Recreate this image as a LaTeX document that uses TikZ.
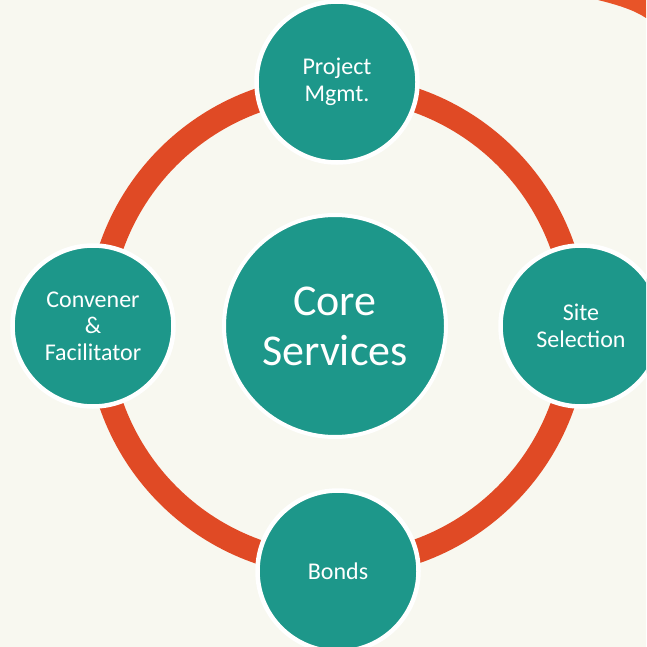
\documentclass[tikz,border=0pt]{standalone}
\usepackage{fontspec}
\setmainfont{Carlito}
\definecolor{bgcol}{HTML}{F8F8F0}
\definecolor{teal}{HTML}{1D978A}
\definecolor{ringred}{HTML}{E04A25}
\definecolor{cornerorange}{HTML}{E85428}
\begin{document}
\begin{tikzpicture}[x=1pt,y=-1pt,
  satellite/.style={circle, fill=teal, draw=white, line width=4.5pt, minimum size=161pt, inner sep=0pt,
    text=white, align=center, font=\fontsize{24}{26.5}\selectfont},
  hub/.style={circle, fill=teal, draw=white, line width=4pt, minimum size=222pt, inner sep=0pt,
    text=white, align=center, font=\fontsize{44}{50}\selectfont},
  ringstyle/.style={draw=ringred, line width=24pt}]
\useasboundingbox (0,0) rectangle (646,647);
\clip (0,0) rectangle (646,647);
\fill[bgcol] (0,0) rectangle (646,647);
\fill[cornerorange] (598,0) .. controls (618,5) and (634,10) .. (646,18) -- (646,0) -- cycle;
\coordinate (ringc) at (337,326);
\draw[ringstyle] (ringc) circle[radius=239pt];
\node[hub] (core) at (335,326) {Core\\Services};
\node[satellite] (pm) at (337,82) {Project\\Mgmt.};
\node[satellite] (site) at (581,326) {Site\\Selection};
\node[satellite] (bonds) at (338,571) {Bonds};
\node[satellite] (conv) at (93,326) {Convener\\\&\\Facilitator};
\end{tikzpicture}
\end{document}
